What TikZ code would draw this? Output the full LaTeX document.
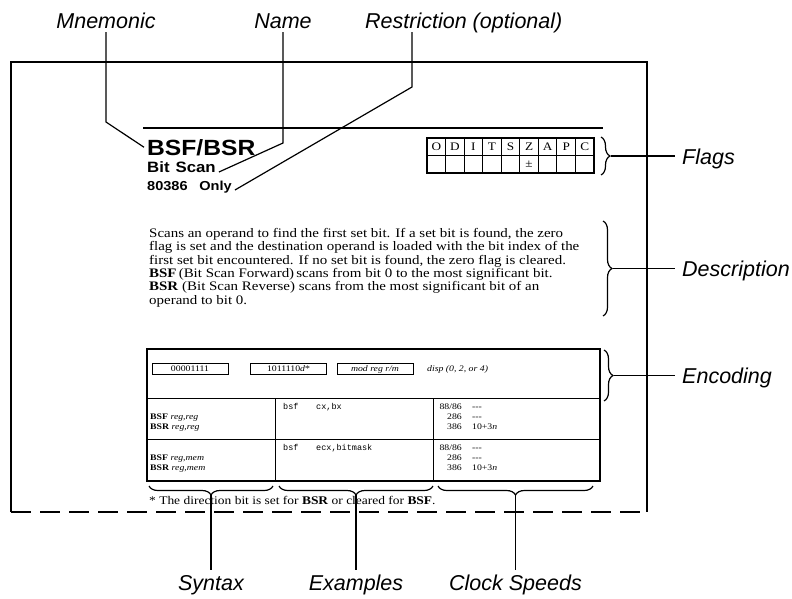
\documentclass[tikz,border=0pt]{standalone}
\usepackage{fontspec}
\setmainfont{Liberation Serif}
\setmonofont{Liberation Mono}
\newfontfamily\capfont{Liberation Sans}
\newfontfamily\headfont[FakeStretch=1.12]{Liberation Sans}
\newfontfamily\bodyfont[FakeStretch=1.15]{Liberation Serif}
\usetikzlibrary{decorations.pathreplacing}

\begin{document}
\begin{tikzpicture}[x=1pt, y=-1pt,
    outline/.style={line width=2.2pt},
    leader/.style={line width=1.2pt},
    tbl/.style={line width=1pt},
    brc/.style={decorate, decoration={brace, amplitude=9pt}, line width=1.2pt},
    lbl/.style={font=\capfont\itshape\fontsize{21.5}{22}\selectfont, text height=16pt, text depth=0pt, inner xsep=7pt, inner ysep=4pt},
    hdtxt/.style={inner sep=3pt, anchor=base west},
    flg/.style={inner sep=0pt, font=\bodyfont\fontsize{11.5}{12}\selectfont},
    tabtxt/.style={inner sep=0pt, font=\bodyfont\fontsize{8.5}{10}\selectfont},
    extxt/.style={inner sep=0pt, anchor=base west, font=\ttfamily\fontsize{8.5}{10}\selectfont},
    encbox/.style={draw, line width=1pt, minimum width=76pt, minimum height=11pt, inner sep=0pt, font=\bodyfont\fontsize{8.5}{9}\selectfont}]
\useasboundingbox (0,0) rectangle (792,598);

% page frame
\draw[outline] (11,512) -- (11,62) -- (647,62) -- (647,512);
\draw[outline, dash pattern=on 20pt off 9pt] (11,512) -- (647,512);

% heading
\draw[line width=1.8pt] (143,128) -- (603,128);
\node[hdtxt, font=\headfont\bfseries\fontsize{22}{22}\selectfont] (bsf) at (144,155) {BSF/BSR};
\node[hdtxt, font=\headfont\bfseries\fontsize{15}{15}\selectfont] (bitscan) at (144,172) {Bit\hspace{0.4em}Scan};
\node[hdtxt, font=\headfont\bfseries\fontsize{13}{13}\selectfont] (only) at (144,190) {80386\hspace{0.9em}Only};

\node[lbl, anchor=base] (mnem) at (106,28) {Mnemonic};
\node[lbl, anchor=base] (name) at (283,28) {Name};
\node[lbl, anchor=base west] (restr) at (358,28) {Restriction (optional)};
\coordinate (mbend) at (106,122);
\coordinate (nbend) at (283,143);
\coordinate (rbend) at (412,87);
\draw[leader] (mnem.south) -- (mbend) -- (bsf.west);
\draw[leader] (name.south) -- (nbend) -- (bitscan.base east);
\draw[leader] (restr.south -| rbend) -- (rbend) -- (only.base east);

% flags
\draw[tbl, line width=1.3pt] (427,138) rectangle (594,173);
\draw[tbl] (427,155) -- (594,155);
\foreach \i in {1,...,8}
    \draw[tbl] ({427+18.556*\i},138) -- ({427+18.556*\i},173);
\foreach \f [count=\i] in {O,D,I,T,S,Z,A,P,C}
    \node[flg] (f\i) at ({427+18.556*(\i-0.5)},146.5) {\f};
\node[flg] (zval) at ({427+18.556*5.5},164.5) {±};

% description
\node[anchor=north west, inner sep=0pt, align=left, font=\bodyfont\fontsize{13}{13.4}\selectfont] (desc) at (149,228)
    {Scans an operand to find the first set bit. If a set bit is found, the zero\\
     flag is set and the destination operand is loaded with the bit index of the\\
     first set bit encountered. If no set bit is found, the zero flag is cleared.\\
     \textbf{BSF}\,(Bit Scan Forward)\,scans from bit 0 to the most significant bit.\\
     \textbf{BSR} (Bit Scan Reverse) scans from the most significant bit of an\\
     operand to bit 0.};

% encoding table
\draw[tbl, line width=1.2pt] (147,349) rectangle (600,481);
\draw[tbl] (147,398) -- (600,398);
\draw[tbl] (147,439) -- (600,439);
\draw[tbl] (275,398) -- (275,481);
\draw[tbl] (433,398) -- (433,481);
\node[encbox] (op1) at (190,369) {00001111};
\node[encbox] (op2) at (288.5,369) {1011110\textit{d}*};
\node[encbox] (op3) at (375,369) {\textit{mod reg r/m}};
\node[tabtxt, anchor=west] (disp) at (427,369) {\textit{disp (0, 2, or 4)}};

\node[tabtxt, anchor=base west] (s1) at (150,419) {\textbf{BSF} \textit{reg,reg}};
\node[tabtxt, anchor=base west] (s2) at (150,429) {\textbf{BSR} \textit{reg,reg}};
\node[tabtxt, anchor=base west] (s3) at (150,460) {\textbf{BSF} \textit{reg,mem}};
\node[tabtxt, anchor=base west] (s4) at (150,470) {\textbf{BSR} \textit{reg,mem}};
\node[extxt] (x1) at (283,409) {\makebox[33pt][l]{bsf}cx,bx};
\node[extxt] (x2) at (283,450) {\makebox[33pt][l]{bsf}ecx,bitmask};

\foreach \y/\a/\b in {409/88\slash 86/---, 419/286/---, 429/386/10+3\textit{n},
                      450/88\slash 86/---, 460/286/---, 470/386/10+3\textit{n}} {
    \node[tabtxt, anchor=base east] at (462,\y) {\a};
    \node[tabtxt, anchor=base west] at (472,\y) {\b};
}

\node[anchor=base west, inner sep=0pt, font=\bodyfont\fontsize{11.7}{12}\selectfont] (note) at (149,504)
    {* The direction bit is set for \textbf{BSR} or cleared for \textbf{BSF}.};

% braces and their labels
\draw[brc] (601,137) -- (601,175);
\draw[brc] (603,221) -- (603,316);
\draw[brc] (604,350) -- (604,401);
\coordinate (ftip) at (611,156);
\coordinate (dtip) at (613,268.5);
\coordinate (etip) at (614,375.5);
\node[lbl, anchor=west] (flags) at (675,156) {Flags};
\node[lbl, anchor=west] (descr) at (675,268.5) {Description};
\node[lbl, anchor=west] (enc) at (675,375.5) {Encoding};
\draw[leader] (ftip) -- (flags.west);
\draw[leader] (dtip) -- (descr.west);
\draw[leader] (etip) -- (enc.west);

\draw[brc] (273,486) -- (149,486);
\draw[brc] (433,486) -- (279,486);
\draw[brc] (593,486) -- (438,486);
\coordinate (stip) at (211,495);
\coordinate (xtip) at (356,495);
\coordinate (ctip) at (515.5,495);
\node[lbl, anchor=north] (syn) at (211,570) {Syntax};
\node[lbl, anchor=north] (exa) at (356,570) {Examples};
\node[lbl, anchor=north] (clk) at (515.5,570) {Clock Speeds};
\draw[leader] (stip) -- (syn.north);
\draw[leader] (xtip) -- (exa.north);
\draw[leader] (ctip) -- (clk.north);
\end{tikzpicture}
\end{document}
